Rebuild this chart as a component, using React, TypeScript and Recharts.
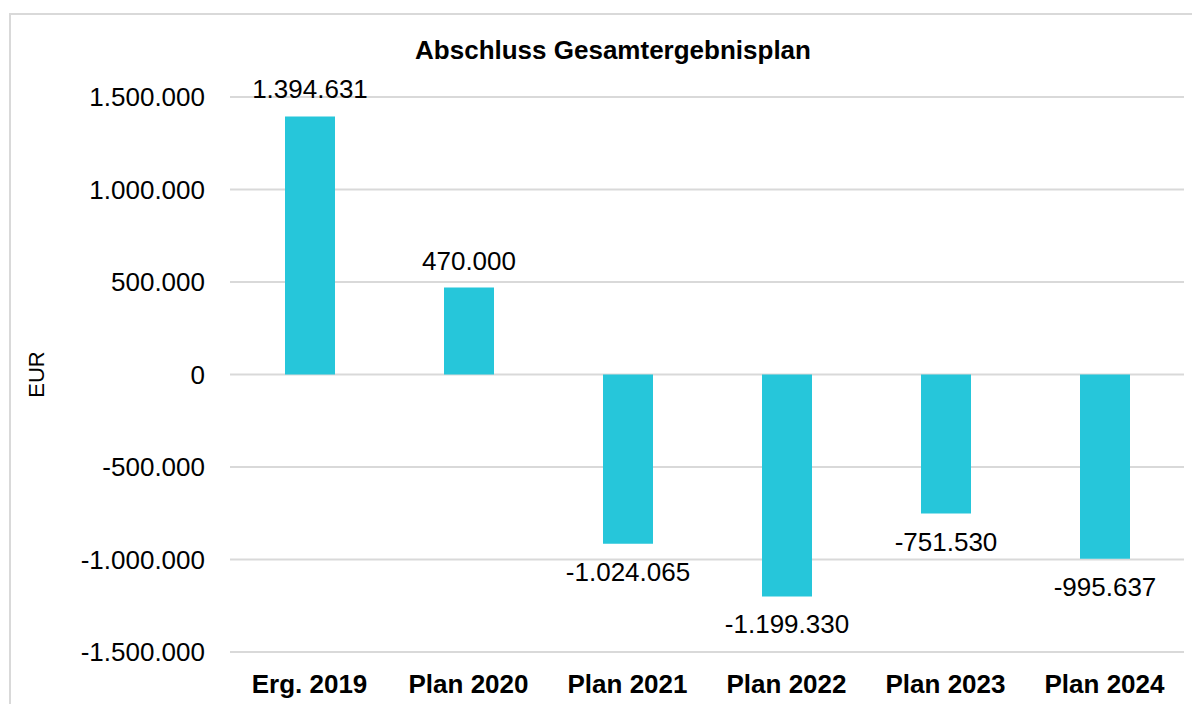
import React from 'react'
import { BarChart, Bar, XAxis, YAxis, CartesianGrid, LabelList } from 'recharts'

const categories = ['Erg. 2019', 'Plan 2020', 'Plan 2021', 'Plan 2022', 'Plan 2023', 'Plan 2024']
// bar heights as drawn in the picture (Plan 2021 bar is drawn shorter than its label)
const values = [1394631, 470000, -915000, -1199330, -751530, -995637]
const valueLabels = ['1.394.631', '470.000', '-1.024.065', '-1.199.330', '-751.530', '-995.637']
const yTicks = [-1500000, -1000000, -500000, 0, 500000, 1000000, 1500000]

const data = categories.map((name, i) => ({ name, value: values[i], label: valueLabels[i] }))

const FONT = '"Liberation Sans", Arial, sans-serif'

const fmt = (v: number) => {
  const s = Math.abs(v).toString().replace(/\B(?=(\d{3})+(?!\d))/g, '.')
  return (v < 0 ? '-' : '') + s
}

const BarLabel = (props: any) => {
  const { x, y, width, height, index } = props
  const top = Math.min(y, y + height)
  const bottom = Math.max(y, y + height)
  const neg = values[index] < 0
  return (
    <text
      x={x + width / 2}
      y={neg ? bottom + 28 : top - 27}
      textAnchor="middle"
      dominantBaseline="central"
      fontSize={26}
      fontFamily={FONT}
      fill="#000"
    >
      {valueLabels[index]}
    </text>
  )
}

const App = () => {
  return (
    <div style={{ width: 1192, height: 696, overflow: 'hidden', position: 'relative', fontFamily: FONT }}>
      <div
        style={{
          position: 'absolute',
          left: 1,
          top: 5,
          width: 1210,
          height: 720,
          border: '2px solid #d9d9d9',
          boxSizing: 'border-box',
        }}
      />
      <div
        style={{
          position: 'absolute',
          left: 0,
          top: 27,
          width: 1210,
          textAlign: 'center',
          fontWeight: 'bold',
          fontSize: 26,
          color: '#000',
        }}
      >
        Abschluss Gesamtergebnisplan
      </div>
      <div style={{ position: 'absolute', left: 0, top: 0 }}>
        <BarChart width={1192} height={696} data={data} margin={{ top: 89, right: 16, bottom: 10, left: 0 }}>
          <CartesianGrid vertical={false} stroke="#d9d9d9" strokeWidth={2} />
          <XAxis
            dataKey="name"
            axisLine={false}
            tickLine={false}
            tickMargin={17}
            height={42}
            interval={0}
            tick={{ fontSize: 26, fontWeight: 'bold', fill: '#000', fontFamily: FONT }}
          />
          <YAxis
            width={222}
            domain={[-1500000, 1500000]}
            ticks={yTicks}
            tickFormatter={fmt}
            axisLine={false}
            tickLine={false}
            tickMargin={19}
            tick={{ fontSize: 26, fill: '#000', fontFamily: FONT }}
            label={{
              value: 'EUR',
              angle: -90,
              position: 'insideLeft',
              offset: 28,
              style: { textAnchor: 'middle', fontSize: 22, fill: '#000', fontFamily: FONT },
            }}
          />
          <Bar dataKey="value" fill="#26C6DA" barSize={50} isAnimationActive={false}>
            <LabelList dataKey="label" content={BarLabel} />
          </Bar>
        </BarChart>
      </div>
    </div>
  )
}

export default App
